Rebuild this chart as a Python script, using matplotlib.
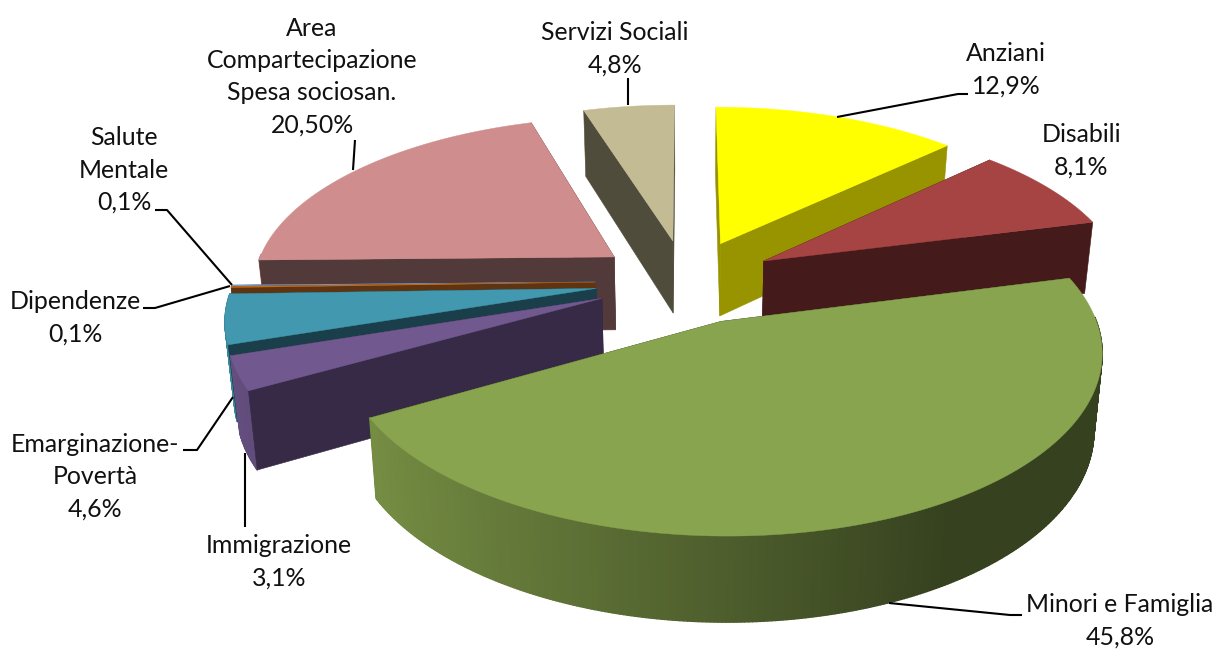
import matplotlib
matplotlib.use("Agg")
import matplotlib.pyplot as plt
import numpy as np
from matplotlib.collections import PolyCollection
from matplotlib.colors import to_rgb
from matplotlib.patches import Polygon

# spesa per area, in senso orario dalle ore 12
names = ["Anziani", "Disabili", "Minori e Famiglia", "Immigrazione", "Emarginazione-\nPovertà",
         "Dipendenze", "Salute\nMentale", "Area\nCompartecipazione\nSpesa sociosan.", "Servizi Sociali"]
values = [12.9, 8.1, 45.8, 3.1, 4.6, 0.1, 0.1, 20.5, 4.8]
value_labels = ["12,9%", "8,1%", "45,8%", "3,1%", "4,6%", "0,1%", "0,1%", "20,50%", "4,8%"]

top_colors = ["#ffff00", "#a54442", "#88a44e", "#71588f", "#4198af", "#c8701a", "#7f9bc8", "#cf8e8d", "#c3bb93"]
wall_colors = ["#979400", "#451a1a", "#35421c", "#372a47", "#1a3f4a", "#5e3413", "#34455e", "#533a3a", "#504c3b"]

# centre of each label and its leader line
label_pos = [(1006, 70), (1081, 151), (1120, 621), (279, 562), (95, 477), (75, 318), (124, 170), (312, 76.5), (615, 49)]
leaders = [
    [(837, 117), (958, 94), (968, 94)],
    [],
    [(889, 603), (1010, 615), (1022, 615)],
    [(245, 453), (245, 527)],
    [(233, 397), (197, 450), (183, 450)],
    [(230, 286), (155, 308), (143, 308)],
    [(232, 285), (167, 210), (155, 210)],
    [(353, 170), (355, 140)],
    [(628, 105), (628, 78)],
]

CX, CY = 686, 281
RX, RY = 362, 168
DIST = 6.53
HEIGHT = 74
EXPLODE = 0.25


def project(x, y, depth=0.0):
    # depth 0 is the top face, depth 1 the bottom of the pie
    s = DIST / (DIST + y)
    sz = s * (1 - 0.02 * depth)
    return np.column_stack([CX + RX * x * sz, CY - RY * y * sz + HEIGHT * s * depth])


def shade(theta):
    # outer wall gets darker going from the left side to the right side
    f = 0.86 + (np.sin(theta) + 0.87) * (0.40 - 0.86) / (0.5 + 0.87)
    return np.clip(f, 0.40, 0.90)


def cut_face(ax, ox, oy, xe, ye, wall, zorder):
    xs, ys = np.array([ox, xe]), np.array([oy, ye])
    pts = np.vstack([project(xs, ys), project(xs[::-1], ys[::-1], 1.0)])
    ax.add_patch(Polygon(pts, closed=True, fc=wall, ec=wall, lw=0.4, zorder=zorder))


def draw_slice(ax, start, end, top, wall, zorder):
    mid = (start + end) / 2
    ox, oy = EXPLODE * np.sin(mid), EXPLODE * np.cos(mid)
    n = max(int(np.degrees(end - start) * 2), 2)
    t = np.linspace(start, end, n)
    x, y = ox + np.sin(t), oy + np.cos(t)

    # cut faces turned away from the viewer go first, the others after the outer wall
    start_visible = np.sin(start) < 0
    end_visible = np.sin(end) > 0
    if not start_visible:
        cut_face(ax, ox, oy, x[0], y[0], wall, zorder)
    if not end_visible:
        cut_face(ax, ox, oy, x[-1], y[-1], wall, zorder)

    # outer wall, front part only, one strip per step so the shading can change along it
    upper = project(x, y)
    lower = project(x, y, 1.0)
    rgb = np.array(to_rgb(top))
    strips = []
    colors = []
    for i in range(n - 1):
        tm = (t[i] + t[i + 1]) / 2
        if np.cos(tm) < 0.02:
            strips.append([upper[i], upper[i + 1], lower[i + 1], lower[i]])
            colors.append(rgb * shade(tm))
    if strips:
        ax.add_collection(PolyCollection(strips, facecolors=colors, edgecolors=colors, linewidths=1.0, zorder=zorder))

    if start_visible:
        cut_face(ax, ox, oy, x[0], y[0], wall, zorder)
    if end_visible:
        cut_face(ax, ox, oy, x[-1], y[-1], wall, zorder)

    # top face
    face = np.vstack([project(np.array([ox]), np.array([oy])), upper])
    ax.add_patch(Polygon(face, closed=True, fc=top, ec=top, lw=0.3, zorder=zorder))


plt.rcParams["font.family"] = "Lato"
fig = plt.figure(figsize=(12.14, 6.49), dpi=100)
ax = fig.add_axes([0, 0, 1, 1])
ax.set_xlim(0, 1214)
ax.set_ylim(649, 0)
ax.axis("off")

edges = np.radians(np.cumsum([0] + values) * 3.6)
mids = (edges[:-1] + edges[1:]) / 2

# back slices first
order = np.argsort(-np.cos(mids))
for z, i in enumerate(order):
    draw_slice(ax, edges[i], edges[i + 1], top_colors[i], wall_colors[i], z + 1)

for i in range(len(values)):
    lx, ly = label_pos[i]
    ax.text(lx, ly, names[i] + "\n" + value_labels[i], ha="center", va="center",
            fontsize=17.9, linespacing=1.48, color="#111111", zorder=40)
    if leaders[i]:
        xs, ys = zip(*leaders[i])
        ax.plot(xs, ys, color="black", lw=1.5, zorder=30, solid_capstyle="butt")

fig.savefig("out.png", dpi=100)
